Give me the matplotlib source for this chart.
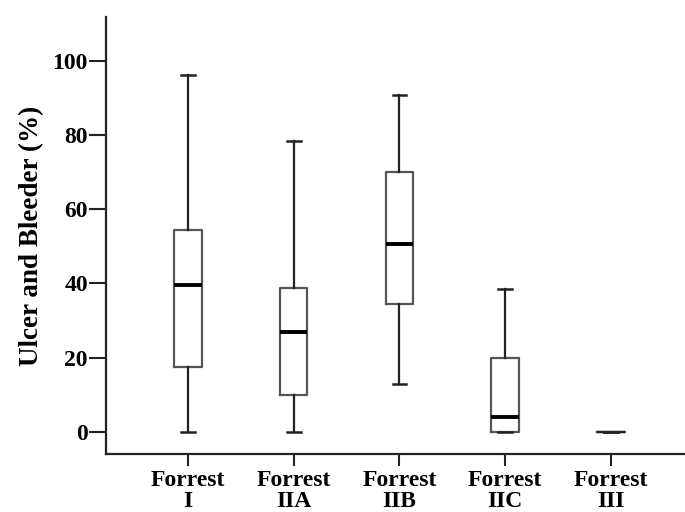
import matplotlib
matplotlib.use("Agg")
import matplotlib.pyplot as plt

# значения
groups = ["Forrest\nI", "Forrest\nIIA", "Forrest\nIIB", "Forrest\nIIC", "Forrest\nIII"]
whislo = [0.0, 0.0, 12.8, 0.0, 0.0]
q1 = [17.5, 9.9, 34.4, 0.0, 0.0]
med = [39.5, 26.9, 50.7, 4.0, 0.0]
q3 = [54.4, 38.8, 70.1, 19.9, 0.0]
whishi = [96.2, 78.5, 90.9, 38.4, 0.0]
yticks = [0, 20, 40, 60, 80, 100]

plt.rcParams['font.family'] = ['Liberation Serif', 'DejaVu Serif']
plt.rcParams['font.weight'] = 'bold'

fig = plt.figure(figsize=(6.85, 5.12), dpi=100)
ax = fig.add_axes([0.1547, 0.1133, 0.8453, 0.8535])

stats = []
for i in range(len(groups)):
    stats.append({"label": groups[i], "whislo": whislo[i], "q1": q1[i], "med": med[i],
                  "q3": q3[i], "whishi": whishi[i], "fliers": []})

bp = ax.bxp(stats, positions=range(1, len(groups) + 1), widths=0.26, showfliers=False,
            boxprops=dict(color="#555555", linewidth=1.6),
            whiskerprops=dict(color="#222222", linewidth=1.6),
            capprops=dict(color="#222222", linewidth=1.8),
            medianprops=dict(color="black", linewidth=2.8))
# у последней группы всё в нуле - там просто тонкая линия
bp['medians'][-1].set_linewidth(1.6)
bp['medians'][-1].set_color("#222222")

ax.set_xlim(0.225, 5.70)
ax.set_ylim(-6.0, 111.9)
ax.set_yticks(yticks)
ax.spines['top'].set_visible(False)
ax.spines['right'].set_visible(False)
for s in ['left', 'bottom']:
    ax.spines[s].set_linewidth(1.6)
    ax.spines[s].set_color("#222222")
ax.tick_params(axis='y', length=12, width=1.5, color="#222222", labelsize=17, pad=1)
ax.tick_params(axis='x', length=8.5, width=1.5, color="#222222", labelsize=17, pad=3)
for lab in ax.get_xticklabels() + ax.get_yticklabels():
    lab.set_fontweight('bold')
ax.set_xticklabels(groups, linespacing=1.0)
ax.set_ylabel("Ulcer and Bleeder (%)", fontsize=19.5, fontweight='bold', labelpad=6)

fig.savefig("out.png", dpi=100)
